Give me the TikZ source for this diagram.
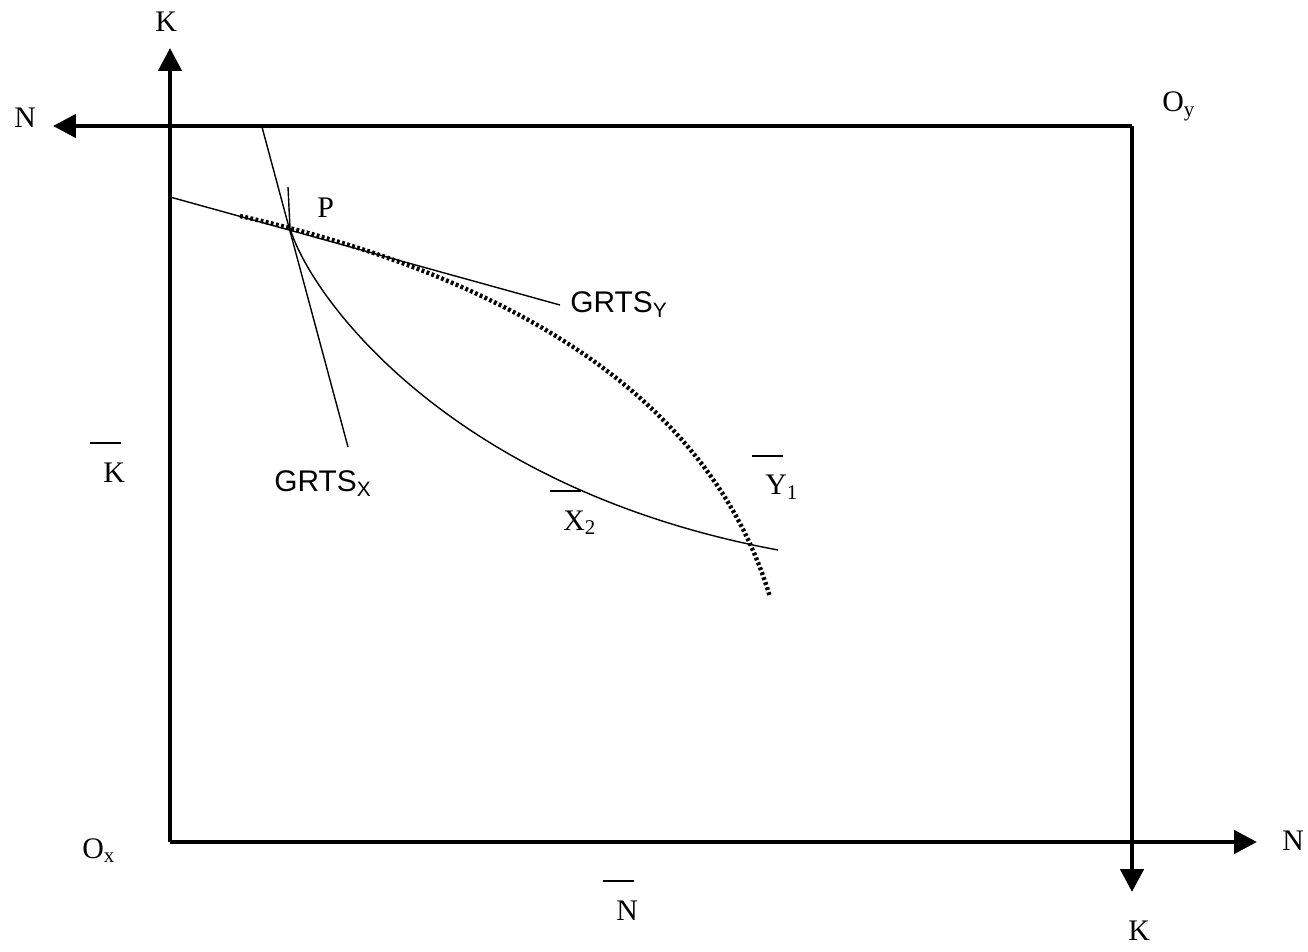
\documentclass[tikz,border=0pt]{standalone}
\usepackage{fontspec}
\setmainfont{Liberation Serif}
\newfontfamily\arialfont{Liberation Sans}
\usetikzlibrary{arrows.meta, positioning}

% overbar set a little to the left of the letter
\newcommand{\barred}[1]{\makebox[0pt][l]{\hspace{-0.46em}\rule[1.27em]{1.06em}{0.065em}}#1}

\begin{document}
\begin{tikzpicture}[x=0.02cm, y=-0.02cm,
        axis/.style={line width=2.6pt, -{Triangle[length=13pt, width=13pt]}},
        thin/.style={line width=0.8pt},
        dotcurve/.style={line width=2.5pt, dash pattern=on 1.6pt off 1.4pt},
        lab/.style={font=\fontsize{17}{20}\selectfont, inner sep=0pt, anchor=base west},
        sanslab/.style={lab, font=\fontsize{17}{20}\selectfont\arialfont}]
        \useasboundingbox (0,0) rectangle (1308,952);

        % --- Ecken der Box ---
        \coordinate (Ox) at (170,842);
        \coordinate (Oy) at (1132,126);
        \coordinate (Kup) at (170,48);
        \coordinate (Nleft) at (53,126);
        \coordinate (Nright) at (1257,842);
        \coordinate (Kdown) at (1132,892);

        % Achsen
        \draw[axis] (Ox) -- (Kup);
        \draw[axis] (Ox) -- (Nright);
        \draw[axis] (Oy) -- (Nleft);
        \draw[axis] (Oy) -- (Kdown);

        % Achsenbeschriftung
        \node[lab] (kup) at (155,32) {K};
        \node[lab] (nleft) at (14,128) {N};
        \node[lab] (oy) at (1162,112) {O\textsubscript{y}};
        \node[lab] (ox) at (82,858) {O\textsubscript{x}};
        \node[lab] (nright) at (1282,850) {N};
        \node[lab] (kdown) at (1128,940) {K};
        \node[lab] (kbar) at (103,482) {\barred{K}};
        \node[lab] (nbar) at (616,920) {\barred{N}};

        % --- Kurven und Tangenten ---
        \coordinate (P) at (290,228);
        \coordinate (gxtop) at (262,127);
        \coordinate (gxend) at (348,447);
        \coordinate (gytop) at (170,197);
        \coordinate (gyend) at (560,305);
        \coordinate (xstart) at (288,187);
        \coordinate (xend) at (778,550);
        \coordinate (ystart) at (240,216);
        \coordinate (yend) at (770,597);

        \draw[thin] (gxtop) -- (gxend);
        \draw[thin] (gytop) -- (gyend);
        \draw[thin] (xstart) -- (P) .. controls (308,292) and (445,488) .. (xend); % X2
        \draw[dotcurve] (ystart) .. controls (480,270) and (705,380) .. (yend); % Y1

        % Beschriftung
        \node[lab] (p) at (317,218) {P};
        \node[sanslab] (grtsy) at (570,313) {GRTS\textsubscript{Y}};
        \node[sanslab] (grtsx) at (274,492) {GRTS\textsubscript{X}};
        \node[lab] (x2) at (563,530) {\barred{X}\textsubscript{2}};
        \node[lab] (y1) at (765,495) {\barred{Y}\textsubscript{1}};
\end{tikzpicture}
\end{document}
